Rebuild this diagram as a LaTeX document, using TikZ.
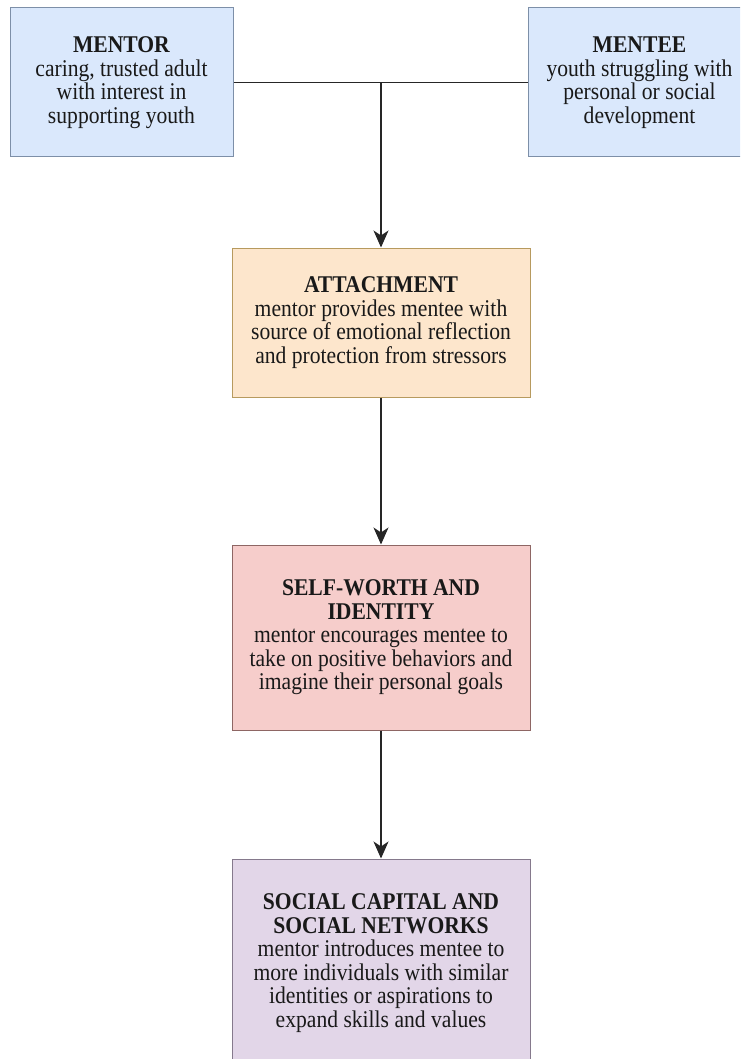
\documentclass[tikz,border=0pt]{standalone}
\usepackage{fontspec}
\setmainfont{Liberation Serif}[FakeStretch=0.9]
\usetikzlibrary{arrows.meta}

\definecolor{mentorfill}{HTML}{DAE8FC}
\definecolor{mentorline}{HTML}{7D8FA8}
\definecolor{attachfill}{HTML}{FDE6CC}
\definecolor{attachline}{HTML}{B79A5E}
\definecolor{worthfill}{HTML}{F6CDCB}
\definecolor{worthline}{HTML}{8E6664}
\definecolor{socialfill}{HTML}{E2D6E8}
\definecolor{socialline}{HTML}{85798C}

\tikzset{
    box/.style={draw, line width=1pt, align=center, inner sep=0pt,
        minimum width=223pt, minimum height=149pt, text=black!90,
        font=\fontsize{24}{23.5}\selectfont},
    wide/.style={box, minimum width=298pt},
    link/.style={line width=1.6pt, draw=black!85},
    flow/.style={link, -{Stealth[length=17pt, width=15pt, inset=5pt]}}
}

\begin{document}
\begin{tikzpicture}[x=1pt, y=-1pt]
    \useasboundingbox (0,0) rectangle (740,1059);
    \clip (0,0) rectangle (740,1059);

    % Top pair
    \node[box, fill=mentorfill, draw=mentorline] (mentor) at (121.5, 82.5)
        {\textbf{MENTOR}\\caring, trusted adult\\with interest in\\supporting youth};
    \node[box, fill=mentorfill, draw=mentorline] (mentee) at (639.5, 82.5)
        {\textbf{MENTEE}\\youth struggling with\\personal or social\\development};

    % Stages
    \node[wide, fill=attachfill, draw=attachline] (attach) at (381, 322.5)
        {\textbf{ATTACHMENT}\\mentor provides mentee with\\source of emotional reflection\\and protection from stressors};
    \node[wide, fill=worthfill, draw=worthline, minimum height=185pt] (worth) at (381, 637.5)
        {\textbf{SELF-WORTH AND}\\\textbf{IDENTITY}\\mentor encourages mentee to\\take on positive behaviors and\\imagine their personal goals};
    \node[wide, fill=socialfill, draw=socialline, minimum height=208pt] (social) at (381, 963)
        {\textbf{SOCIAL CAPITAL AND}\\\textbf{SOCIAL NETWORKS}\\mentor introduces mentee to\\more individuals with similar\\identities or aspirations to\\expand skills and values};

    % Connectors
    \coordinate (join) at (attach.north |- mentor.east);
    \draw[link] (mentor.east) -- (mentee.west);
    \draw[flow] (join) -- (attach.north);
    \draw[flow] (attach.south) -- (worth.north);
    \draw[flow] (worth.south) -- (social.north);
\end{tikzpicture}
\end{document}
